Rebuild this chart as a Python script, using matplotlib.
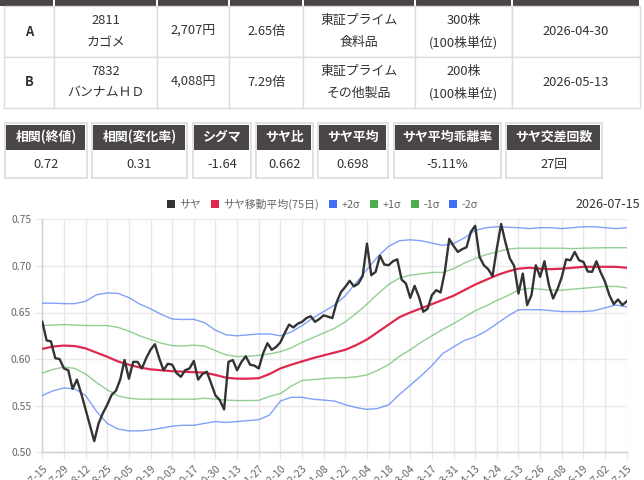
import numpy as np
import matplotlib
matplotlib.use('Agg')
import matplotlib.pyplot as plt
from matplotlib.patches import Rectangle, Patch

plt.rcParams['font.family'] = ['Noto Sans CJK JP', 'DejaVu Sans']

# ---------------- data ----------------
row_keys = ['A', 'B']
codes = ['2811', '7832']
names = ['カゴメ', 'バンナムＨＤ']
prices = ['2,707円', '4,088円']
multiples = ['2.65倍', '7.29倍']
markets = ['東証プライム', '東証プライム']
sectors = ['食料品', 'その他製品']
lots = ['300株', '200株']
lot_units = ['(100株単位)', '(100株単位)']
exdates = ['2026-04-30', '2026-05-13']

stat_labels = ['相関(終値)', '相関(変化率)', 'シグマ', 'サヤ比', 'サヤ平均', 'サヤ平均乖離率', 'サヤ交差回数']
stat_values = ['0.72', '0.31', '-1.64', '0.662', '0.698', '-5.11%', '27回']

tick_dates = ['2025-07-15', '2025-07-29', '2025-08-12', '2025-08-25', '2025-09-05',
              '2025-09-19', '2025-10-03', '2025-10-17', '2025-10-30', '2025-11-13',
              '2025-11-27', '2025-12-10', '2025-12-23', '2026-01-08', '2026-01-22',
              '2026-02-04', '2026-02-18', '2026-03-04', '2026-03-17', '2026-03-31',
              '2026-04-13', '2026-04-24', '2026-05-13', '2026-05-26', '2026-06-08',
              '2026-06-19', '2026-07-02', '2026-07-15']

series_names = ['サヤ', 'サヤ移動平均(75日)', '+2σ', '+1σ', '-1σ', '-2σ']

# spread (sampled every 2 trading days)
saya = [
    0.640, 0.620, 0.619, 0.601, 0.600,
    0.590, 0.588, 0.568, 0.578, 0.563,
    0.546, 0.529, 0.512, 0.531, 0.542,
    0.551, 0.5615, 0.566, 0.578, 0.599,
    0.579, 0.597, 0.597, 0.590, 0.601,
    0.610, 0.616, 0.601, 0.588, 0.595,
    0.594, 0.585, 0.581, 0.588, 0.590,
    0.598, 0.578, 0.584, 0.5865, 0.574,
    0.561, 0.556, 0.546, 0.597, 0.599,
    0.588, 0.597, 0.603, 0.594, 0.593,
    0.590, 0.606, 0.617, 0.610, 0.613,
    0.618, 0.628, 0.637, 0.634, 0.638,
    0.640, 0.644, 0.646, 0.640, 0.643,
    0.647, 0.6455, 0.644, 0.661, 0.672,
    0.6775, 0.684, 0.678, 0.681, 0.689,
    0.724, 0.690, 0.6936, 0.711, 0.7015,
    0.7007, 0.705, 0.707, 0.6854, 0.681,
    0.6657, 0.6786, 0.6668, 0.6508, 0.654,
    0.6686, 0.674, 0.6715, 0.694, 0.729,
    0.7214, 0.715, 0.718, 0.720, 0.7365,
    0.743, 0.7097, 0.7007, 0.6965, 0.689,
    0.7186, 0.745, 0.725, 0.708, 0.700,
    0.6704, 0.6918, 0.658, 0.6686, 0.7007,
    0.6882, 0.705, 0.680, 0.665, 0.675,
    0.688, 0.707, 0.706, 0.715, 0.706,
    0.7043, 0.694, 0.6936, 0.705, 0.6929,
    0.6829, 0.6686, 0.659, 0.664, 0.658,
    0.662,
]

# bands (sampled every 5 trading days)
ma = [0.611, 0.6135, 0.6145, 0.614, 0.6115, 0.607, 0.6025, 0.5975, 0.594, 0.591,
      0.589, 0.588, 0.587, 0.5865, 0.586, 0.5855, 0.583, 0.580, 0.579, 0.579,
      0.5795, 0.584, 0.590, 0.594, 0.5975, 0.601, 0.604, 0.607, 0.610, 0.615,
      0.621, 0.629, 0.637, 0.645, 0.650, 0.6545, 0.659, 0.6635, 0.668, 0.674,
      0.680, 0.685, 0.690, 0.694, 0.697, 0.698, 0.697, 0.6965, 0.697, 0.698,
      0.699, 0.699, 0.699, 0.699, 0.698]
plus2 = [0.660, 0.660, 0.6595, 0.6595, 0.662, 0.669, 0.671, 0.6705, 0.666, 0.659,
         0.654, 0.648, 0.643, 0.6425, 0.6427, 0.639, 0.631, 0.626, 0.625, 0.626,
         0.627, 0.627, 0.625, 0.629, 0.636, 0.644, 0.651, 0.658, 0.668, 0.682,
         0.696, 0.710, 0.721, 0.727, 0.728, 0.727, 0.7245, 0.722, 0.724, 0.730,
         0.738, 0.741, 0.742, 0.7415, 0.741, 0.740, 0.741, 0.741, 0.740, 0.741,
         0.742, 0.742, 0.741, 0.740, 0.741]
plus1 = [0.636, 0.6365, 0.637, 0.6365, 0.636, 0.636, 0.636, 0.634, 0.630, 0.625,
         0.621, 0.617, 0.6145, 0.614, 0.615, 0.614, 0.609, 0.6045, 0.6027, 0.603,
         0.604, 0.6055, 0.608, 0.612, 0.618, 0.623, 0.628, 0.633, 0.640, 0.649,
         0.659, 0.670, 0.680, 0.687, 0.690, 0.6915, 0.693, 0.693, 0.697, 0.703,
         0.708, 0.712, 0.715, 0.718, 0.719, 0.719, 0.719, 0.719, 0.719, 0.7185,
         0.719, 0.7193, 0.7195, 0.7195, 0.7195]
minus1 = [0.585, 0.589, 0.5915, 0.590, 0.584, 0.575, 0.567, 0.5605, 0.558, 0.557,
          0.557, 0.557, 0.557, 0.557, 0.557, 0.558, 0.557, 0.556, 0.5555, 0.5555,
          0.5557, 0.560, 0.563, 0.571, 0.577, 0.578, 0.579, 0.580, 0.580, 0.581,
          0.583, 0.588, 0.594, 0.603, 0.610, 0.618, 0.625, 0.632, 0.638, 0.645,
          0.652, 0.657, 0.663, 0.668, 0.674, 0.676, 0.675, 0.674, 0.674, 0.675,
          0.676, 0.677, 0.678, 0.678, 0.6765]
minus2 = [0.561, 0.566, 0.569, 0.568, 0.561, 0.544, 0.531, 0.525, 0.523, 0.523,
          0.524, 0.526, 0.528, 0.529, 0.529, 0.531, 0.533, 0.532, 0.533, 0.534,
          0.535, 0.540, 0.555, 0.559, 0.559, 0.557, 0.556, 0.555, 0.551, 0.548,
          0.546, 0.547, 0.551, 0.562, 0.572, 0.582, 0.593, 0.606, 0.613, 0.620,
          0.624, 0.630, 0.638, 0.646, 0.653, 0.653, 0.653, 0.652, 0.651, 0.651,
          0.651, 0.652, 0.655, 0.658, 0.656]

# ---------------- styling ----------------
W, H = 644, 480
DARK = '#4a4547'
BORDER = '#dcdcdc'
TXT = '#333333'
C_SAYA = '#333333'
C_MA = '#e0284f'
C_BLUE = '#3f6ff6'
C_GREEN = '#4cae4c'

fig = plt.figure(figsize=(W / 100, H / 100), dpi=100)
fig.patch.set_facecolor('white')

bg = fig.add_axes([0, 0, 1, 1])
bg.set_xlim(0, W)
bg.set_ylim(H, 0)
bg.axis('off')

# ---- top table ----
col_edges = [4, 54, 157, 229, 303, 415, 512, 640]
row_edges = [6, 57, 108]
# header strip (mostly cut off)
for i in range(len(col_edges) - 1):
    x0 = col_edges[i] + (1 if i > 0 else -4)
    x1 = col_edges[i + 1] - 1
    bg.add_patch(Rectangle((x0, -2), x1 - x0, 8, facecolor=DARK, edgecolor='none'))
for r in range(2):
    y0, y1 = row_edges[r], row_edges[r + 1]
    for c in range(len(col_edges) - 1):
        bg.add_patch(Rectangle((col_edges[c], y0), col_edges[c + 1] - col_edges[c], y1 - y0,
                               facecolor='white', edgecolor=BORDER, lw=1.0))
    yc = (y0 + y1) / 2
    cx = [(col_edges[c] + col_edges[c + 1]) / 2 for c in range(7)]
    fs = 9.3
    bg.text(cx[0], yc, row_keys[r], ha='center', va='center', fontsize=fs, color=TXT, fontweight='bold')
    bg.text(cx[1], yc - 11, codes[r], ha='center', va='center', fontsize=fs, color=TXT)
    bg.text(cx[1], yc + 11, names[r], ha='center', va='center', fontsize=fs, color=TXT)
    bg.text(cx[2], yc, prices[r], ha='center', va='center', fontsize=fs, color=TXT)
    bg.text(cx[3], yc, multiples[r], ha='center', va='center', fontsize=fs, color=TXT)
    bg.text(cx[4], yc - 11, markets[r], ha='center', va='center', fontsize=fs, color=TXT)
    bg.text(cx[4], yc + 11, sectors[r], ha='center', va='center', fontsize=fs, color=TXT)
    bg.text(cx[5], yc - 11, lots[r], ha='center', va='center', fontsize=fs, color=TXT)
    bg.text(cx[5], yc + 11, lot_units[r], ha='center', va='center', fontsize=fs, color=TXT)
    bg.text(cx[6], yc, exdates[r], ha='center', va='center', fontsize=fs, color=TXT)

# ---- stats boxes ----
box_x = [(5, 87), (92, 187), (193, 251), (256, 313), (318, 388), (394, 501), (506, 602)]
by0, bym, by1 = 123, 150, 178
for (x0, x1), lab, val in zip(box_x, stat_labels, stat_values):
    bg.add_patch(Rectangle((x0, by0), x1 - x0, by1 - by0, facecolor='white', edgecolor=BORDER, lw=1.2))
    bg.add_patch(Rectangle((x0 + 1.5, by0 + 1.5), x1 - x0 - 3, bym - by0 - 1.5, facecolor=DARK, edgecolor='none'))
    bg.text((x0 + x1) / 2, (by0 + bym) / 2 + 0.5, lab, ha='center', va='center', fontsize=9.3,
            color='white', fontweight='bold')
    bg.text((x0 + x1) / 2, (bym + by1) / 2 + 0.5, val, ha='center', va='center', fontsize=9.3, color=TXT)

# ---- chart ----
L, R, T, B = 42.3, 626.7, 219.3, 452.3
ax = fig.add_axes([L / W, 1 - B / H, (R - L) / W, (B - T) / H])
ax.set_facecolor('none')

n_ticks = len(tick_dates)
t_saya = np.linspace(0, n_ticks - 1, len(saya))
t_band = np.linspace(0, n_ticks - 1, len(ma))

ax.plot(t_band, plus2, color=C_BLUE, lw=1.0, alpha=0.65, zorder=3)
ax.plot(t_band, minus2, color=C_BLUE, lw=1.0, alpha=0.65, zorder=3)
ax.plot(t_band, plus1, color=C_GREEN, lw=1.0, alpha=0.6, zorder=3)
ax.plot(t_band, minus1, color=C_GREEN, lw=1.0, alpha=0.6, zorder=3)
ax.plot(t_band, ma, color=C_MA, lw=1.6, zorder=4)
ax.plot(t_saya, saya, color=C_SAYA, lw=1.7, zorder=5)

ax.set_xlim(0, n_ticks - 1)
ax.set_ylim(0.50, 0.75)
ax.set_yticks(np.arange(0.50, 0.7501, 0.05))
ax.set_yticklabels([f'{v:.2f}' for v in np.arange(0.50, 0.7501, 0.05)])
ax.set_xticks(np.arange(n_ticks))
ax.set_xticklabels(tick_dates, rotation=45, ha='right', rotation_mode='anchor')
ax.grid(True, color='#e8e8e8', lw=1.0, zorder=0)
ax.set_axisbelow(True)
ax.tick_params(axis='both', length=5, width=1, color='#e8e8e8', labelcolor='#666666', labelsize=7.5, pad=3)
for s in ['top', 'right']:
    ax.spines[s].set_visible(False)
for s in ['left', 'bottom']:
    ax.spines[s].set_color('#d0d0d0')
    ax.spines[s].set_linewidth(1.0)

handles = [Patch(facecolor=c, edgecolor='none') for c in
           [C_SAYA, C_MA, C_BLUE, C_GREEN, C_GREEN, C_BLUE]]
leg = ax.legend(handles, series_names, loc='center', bbox_to_anchor=(0.4795, 1 + 15 / 233),
                ncol=6, frameon=False, fontsize=7.8, handlelength=0.75, handleheight=0.75,
                handletextpad=0.4, columnspacing=0.9, labelcolor='#666666', borderpad=0)

fig.text(640 / W, 1 - 204 / H, tick_dates[-1], ha='right', va='center', fontsize=9, color=TXT)

fig.savefig('out.png', dpi=100, facecolor='white')
